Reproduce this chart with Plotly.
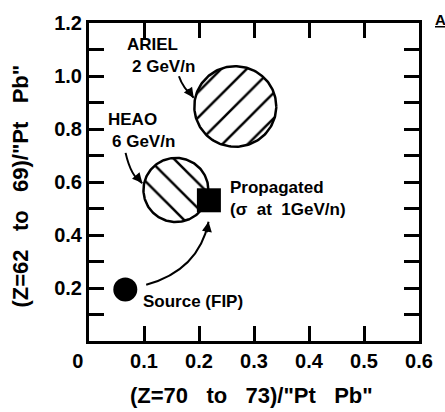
import numpy as np
import plotly.graph_objects as go

# Measured abundance ratios: (Z=70-73)/"Pt Pb" vs (Z=62-69)/"Pt Pb"
exp_names = ["ARIEL", "HEAO"]
exp_x = [0.266, 0.158]
exp_y = [0.885, 0.570]
exp_dx = [0.0745, 0.059]   # half-width of the error ellipse in x
exp_dy = [0.152, 0.121]    # half-height of the error ellipse in y
exp_hatch = ["/", "\\"]

# Model points
src_x, src_y = [0.066], [0.194]      # Source (FIP)
prop_x, prop_y = [0.218], [0.531]    # Propagated (sigma at 1 GeV/n)

x_ticks = [0, 0.1, 0.2, 0.3, 0.4, 0.5, 0.6]
x_text = ["0\u00a0\u00a0\u00a0\u00a0", "0.1", "0.2", "0.3", "0.4", "0.5", "0.6"]
y_ticks = [0.1, 0.2, 0.3, 0.4, 0.5, 0.6, 0.7, 0.8, 0.9, 1.0, 1.1, 1.2]
y_text = ["", "0.2", "", "0.4", "", "0.6", "", "0.8", "", "1.0", "", "1.2"]

FONT = "Liberation Sans, Arial, sans-serif"
SP = "\u00a0" * 3
x_title = "(Z=70" + SP + "to" + SP + "73)/\"Pt" + SP + "Pb\""
y_title = "(Z=62" + SP + "to" + SP + "69)/\"Pt" + SP + "Pb\""

fig = go.Figure()

theta = np.linspace(0, 2 * np.pi, 181)
for name, cx, cy, dx, dy, hatch in zip(exp_names, exp_x, exp_y, exp_dx, exp_dy, exp_hatch):
    fig.add_trace(go.Scatter(
        x=cx + dx * np.cos(theta), y=cy + dy * np.sin(theta),
        mode="lines", fill="toself", name=name,
        line=dict(color="black", width=2.5),
        fillcolor="white",
        fillpattern=dict(shape=hatch, size=18, solidity=0.14,
                         fgcolor="black", bgcolor="white", fgopacity=1),
        hoverinfo="skip", showlegend=False,
    ))

fig.add_trace(go.Scatter(x=src_x, y=src_y, mode="markers", name="Source (FIP)",
                         marker=dict(symbol="circle", size=24, color="black"),
                         showlegend=False))
fig.add_trace(go.Scatter(x=prop_x, y=prop_y, mode="markers", name="Propagated",
                         marker=dict(symbol="square", size=24, color="black"),
                         showlegend=False))

# Curved pointer lines
curves = [
    "M 0.104 0.212 Q 0.1994 0.267 0.2174 0.450",   # source -> propagated
    "M 0.0665 0.710 Q 0.0763 0.620 0.097 0.596",   # HEAO label -> circle
    "M 0.1635 0.999 Q 0.1707 0.955 0.1904 0.918",  # ARIEL label -> circle
]
for p in curves:
    fig.add_shape(type="path", path=p, xref="x", yref="y",
                  line=dict(color="black", width=2))

# Arrow heads at the ends of the pointer lines
heads = [(0.2174, 0.450, -2, 12), (0.097, 0.596, -7, -8), (0.1904, 0.918, -7, -10)]
for hx, hy, ax, ay in heads:
    fig.add_annotation(x=hx, y=hy, ax=ax, ay=ay, xref="x", yref="y",
                       text="", showarrow=True, arrowhead=2, arrowsize=1,
                       arrowwidth=2, arrowcolor="black")

labels = [
    ("ARIEL", 0.115, 1.120, "center"),
    ("2 GeV/n", 0.1347, 1.035, "center"),
    ("HEAO", 0.079, 0.834, "center"),
    ("6 GeV/n", 0.0988, 0.754, "center"),
    ("Propagated", 0.253, 0.578, "left"),
    ("(σ\u00a0\u00a0at\u00a0\u00a01GeV/n)", 0.253, 0.498, "left"),
    ("Source (FIP)", 0.095, 0.150, "left"),
]
for txt, lx, ly, anc in labels:
    fig.add_annotation(x=lx, y=ly, xref="x", yref="y", text=txt, showarrow=False,
                       xanchor=anc, yanchor="middle",
                       font=dict(family=FONT, size=17, color="black", weight="bold"))

# Axis titles
title_font = dict(family=FONT, size=22, color="black", weight="bold")
fig.add_annotation(x=0.491, y=-0.171, xref="paper", yref="paper", text=x_title,
                   showarrow=False, xanchor="center", yanchor="middle", font=title_font)
fig.add_annotation(x=-0.207, y=0.488, xref="paper", yref="paper", text=y_title,
                   showarrow=False, xanchor="center", yanchor="middle",
                   textangle=-90, font=title_font)

# Panel letter at the top-right edge
fig.add_annotation(x=1.042, y=1.01, xref="paper", yref="paper", text="<u>A</u>",
                   showarrow=False, xanchor="left", yanchor="middle",
                   font=dict(family=FONT, size=15, color="black", weight="bold"))

axis_common = dict(
    showline=True, linewidth=3, linecolor="black", mirror="ticks",
    ticks="inside", ticklen=15, tickwidth=2.5, tickcolor="black",
    showgrid=False, zeroline=False,
    tickfont=dict(family=FONT, size=20, color="black", weight="bold"),
)

fig.update_layout(
    width=445, height=412,
    margin=dict(l=89, r=22, t=13, b=71),
    paper_bgcolor="white", plot_bgcolor="white",
    xaxis=dict(range=[0, 0.6], tickmode="array", tickvals=x_ticks, ticktext=x_text,
               **axis_common),
    yaxis=dict(range=[0, 1.2], tickmode="array", tickvals=y_ticks, ticktext=y_text,
               **axis_common),
)

fig.write_html("out.html")
